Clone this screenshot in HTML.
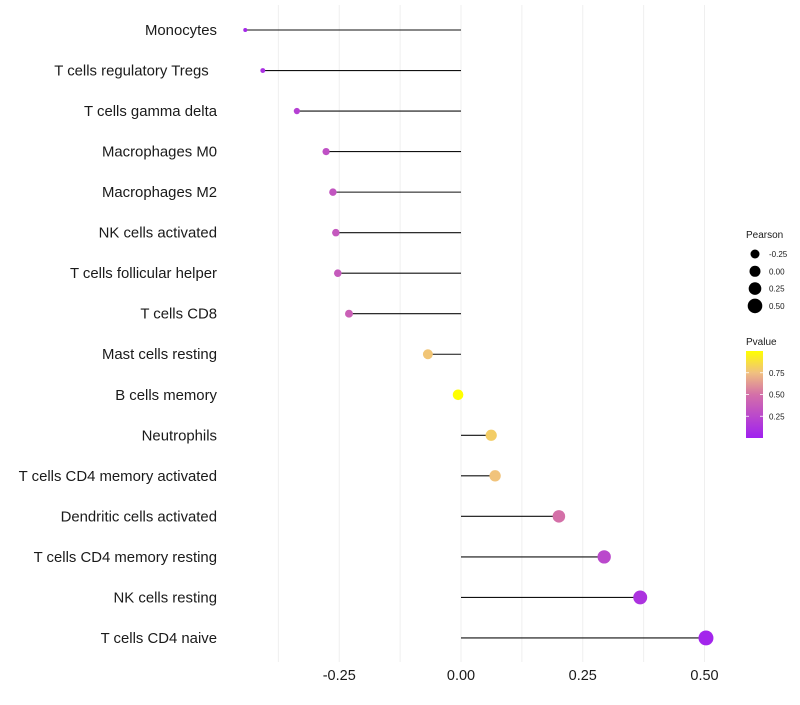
<!DOCTYPE html>
<html><head><meta charset="utf-8"><style>
body{margin:0;background:#fff;font-family:"Liberation Sans",sans-serif}
svg text{font-family:"Liberation Sans",sans-serif}
</style></head><body>
<svg id="chart" width="800" height="700"></svg>
<script>
const categories=["Monocytes","T cells regulatory  Tregs\u00a0\u00a0","T cells gamma delta","Macrophages M0","Macrophages M2","NK cells activated","T cells follicular helper","T cells CD8","Mast cells resting","B cells memory","Neutrophils","T cells CD4 memory activated","Dendritic cells activated","T cells CD4 memory resting","NK cells resting","T cells CD4 naive"];
const pearson=[-0.443,-0.407,-0.337,-0.277,-0.263,-0.257,-0.253,-0.230,-0.068,-0.006,0.062,0.070,0.201,0.294,0.368,0.503];
const pvalues=[0.05,0.1,0.2,0.3,0.33,0.35,0.36,0.4,0.77,1.0,0.8,0.76,0.5,0.25,0.12,0.03];
const xTicks=[-0.25,0,0.25,0.5];
const xTickLabels=["-0.25","0.00","0.25","0.50"];
const NS="http://www.w3.org/2000/svg";
const svg=document.getElementById('chart');
const x=v=>461+v*487;
const y=i=>30+i*40.53;
function el(t,a,p){const e=document.createElementNS(NS,t);for(const k in a)e.setAttribute(k,a[k]);(p||svg).appendChild(e);return e;}
function lerp(a,b,t){return a.map((v,i)=>Math.round(v+(b[i]-v)*t));}
function col(p){const stops=[[0,[160,32,240]],[0.5,[212,112,168]],[0.75,[240,192,128]],[1,[255,255,0]]];
 for(let i=1;i<stops.length;i++){if(p<=stops[i][0]){const t=(p-stops[i-1][0])/(stops[i][0]-stops[i-1][0]);const c=lerp(stops[i-1][1],stops[i][1],t);return `rgb(${c})`;}}return 'rgb(255,255,0)';}
const mn=Math.min(...pearson),mx=Math.max(...pearson);
const rad=v=>Math.sqrt(4+(v-mn)/(mx-mn)*(56-4));
const g=el('g',{});
for(let v=-0.375;v<=0.5;v+=0.125){el('line',{x1:x(v),x2:x(v),y1:5,y2:662,stroke:'#efefef','stroke-width':1},g);}
xTicks.forEach((v,i)=>{const t=el('text',{x:x(v),y:680,'text-anchor':'middle','font-size':14.5,fill:'#1a1a1a'});t.textContent=xTickLabels[i];
});
categories.forEach((c,i)=>{
 const t=el('text',{x:217,y:y(i)+5,'text-anchor':'end','font-size':14.9,fill:'#1a1a1a','xml:space':'preserve'});t.textContent=c;
 
 const l=el('line',{x1:x(0),x2:x(pearson[i]),y1:y(i),y2:y(i),stroke:'#111','stroke-width':1.1});
 
 const d=el('circle',{cx:x(pearson[i]),cy:y(i),r:rad(pearson[i]),fill:col(pvalues[i])});
 
});
const lg=el('g',{});
let t=el('text',{x:746,y:238,'font-size':10,fill:'#1a1a1a'},lg);t.textContent='Pearson';
[[-0.25,4.5],[0,5.5],[0.25,6.3],[0.5,7.3]].forEach((p,i)=>{const cy=254+i*17.3;el('circle',{cx:755,cy:cy,r:p[1],fill:'#000'},lg);
 const tt=el('text',{x:769,y:cy+3,'font-size':8,fill:'#1a1a1a'},lg);tt.textContent=xTickLabels[i];});
const cg=el('g',{});
t=el('text',{x:746,y:345,'font-size':10,fill:'#1a1a1a'},cg);t.textContent='Pvalue';
const defs=el('defs',{});const lgd=el('linearGradient',{id:'pg',x1:0,y1:1,x2:0,y2:0},defs);
[0,0.25,0.5,0.75,1].forEach(s=>el('stop',{offset:s,'stop-color':col(s)},lgd));
el('rect',{x:746,y:351,width:17,height:87,fill:'url(#pg)'},cg);
[[0.75,'0.75'],[0.5,'0.50'],[0.25,'0.25']].forEach(p=>{const yy=438-p[0]*87;
 el('line',{x1:746,x2:749,y1:yy,y2:yy,stroke:'#fff','stroke-width':0.8},cg);el('line',{x1:760,x2:763,y1:yy,y2:yy,stroke:'#fff','stroke-width':0.8},cg);
 const tt=el('text',{x:769,y:yy+3,'font-size':8,fill:'#1a1a1a'},cg);tt.textContent=p[1];});
</script>
</body></html>
